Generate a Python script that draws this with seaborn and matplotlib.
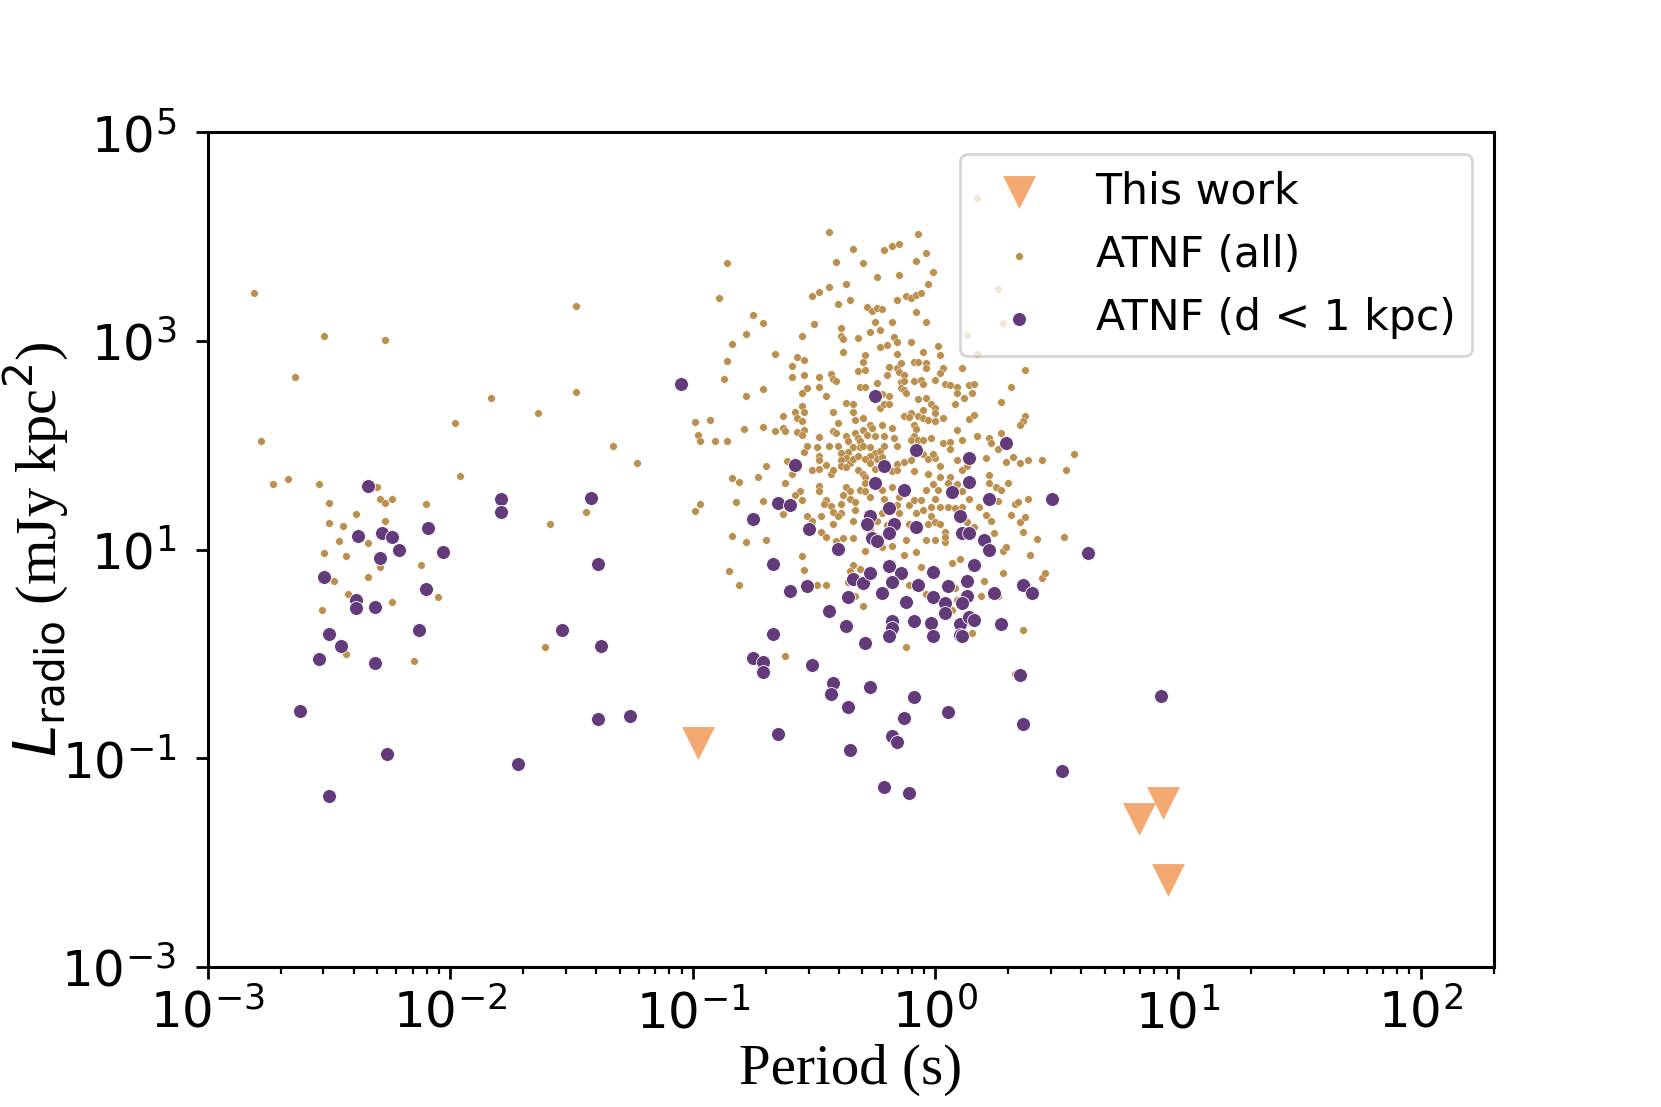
import numpy as np
import pandas as pd
import matplotlib
matplotlib.use("Agg")
import matplotlib.pyplot as plt
from matplotlib.ticker import NullLocator, FixedLocator
import seaborn as sns

# ---------------- data (log10 values) ----------------
# ATNF (all): log10 Period [s]
atnf_all_logP = [
    -2.81,-2.52,-2.27,-2.64,-1.83,-1.98,-2.78,-1.96,-2.73,-2.67,-2.54,-2.30,-2.29,-2.24,-2.27,-2.50,-2.10,-2.39,-2.50,-2.44,
    -2.27,-2.46,-2.34,-2.52,-2.43,-2.29,-2.12,-2.48,-2.34,-2.42,-2.53,-2.24,-2.05,-2.43,-2.15,
    -0.86,-0.89,-1.48,-0.75,-0.78,-0.84,-0.86,-0.87,-1.48,-1.64,-0.78,-0.99,-0.93,-0.79,-0.98,-0.97,-0.91,-0.86,-1.33,-1.23,
    -0.84,-0.81,-0.73,-0.82,-0.97,-0.99,-1.44,-1.59,-0.84,-0.78,-0.85,-0.81,-1.61,
    -0.44,-0.07,-0.34,-0.21,-0.18,-0.15,-0.04,-0.41,-0.30,-0.08,-0.24,-0.15,-0.03,-0.37,-0.51,-0.48,-0.44,-0.40,-0.35,-0.28,
    -0.26,-0.24,-0.22,-0.16,-0.12,-0.10,-0.08,-0.06,-0.08,-0.71,-0.50,-0.55,-0.39,-0.39,-0.38,-0.32,-0.27,-0.23,-0.25,-0.18,
    -0.04,-0.17,-0.16,-0.10,-0.66,-0.38,-0.23,-0.20,-0.16,-0.29,-0.30,-0.05,-0.57,-0.54,-0.59,-0.19,-0.16,-0.14,-0.09,-0.07,
    -0.04,-0.04,-0.54,-0.59,-0.48,-0.43,-0.42,-0.41,-0.32,-0.29,-0.24,-0.20,-0.15,-0.13,-0.14,-0.13,-0.09,-0.06,-0.05,-0.71,
    -0.53,-0.55,-0.48,-0.45,-0.31,-0.29,-0.22,-0.19,-0.14,-0.13,-0.12,-0.07,-0.04,-0.37,-0.34,-0.34,-0.42,-0.23,-0.21,-0.19,
    -0.55,-0.54,-0.58,-0.57,-0.55,-0.63,-0.71,-0.63,-0.62,-0.66,-0.57,-0.54,-0.55,-0.40,-0.42,-0.41,-0.30,-0.33,-0.30,-0.27,
    -0.26,-0.22,-0.18,-0.17,-0.13,-0.10,-0.11,-0.09,-0.08,-0.07,-0.05,-0.03,-0.05,-0.48,-0.37,-0.36,-0.33,-0.32,-0.31,-0.28,
    -0.25,-0.21,-0.49,-0.44,-0.40,-0.34,-0.36,-0.31,-0.30,-0.27,-0.25,-0.23,-0.16,-0.09,-0.10,-0.07,-0.05,-0.54,-0.53,-0.48,
    -0.48,-0.45,-0.39,-0.37,-0.39,-0.35,-0.34,-0.32,-0.27,-0.29,-0.24,-0.22,-0.21,-0.16,-0.13,-0.09,-0.10,-0.05,-0.03,-0.70,
    -0.61,-0.51,-0.48,-0.43,-0.42,-0.39,-0.37,-0.32,-0.30,-0.29,-0.27,-0.25,-0.18,-0.16,-0.09,-0.03,-0.59,
    -0.62,-0.56,-0.58,-0.55,-0.48,-0.48,-0.45,-0.46,-0.43,-0.42,-0.39,-0.38,-0.37,-0.35,-0.35,-0.39,-0.33,-0.31,-0.29,-0.27,
    -0.29,-0.22,-0.21,-0.18,-0.15,-0.11,-0.09,-0.06,-0.04,-0.71,-0.63,-0.53,-0.51,-0.47,-0.42,-0.40,-0.34,-0.33,-0.28,-0.24,
    -0.20,-0.22,-0.16,-0.15,-0.11,-0.08,-0.05,-0.03,-0.47,-0.45,-0.41,-0.38,-0.34,-0.29,-0.27,-0.23,-0.22,-0.18,-0.12,-0.08,
    -0.04,-0.13,-0.20,-0.18,-0.55,-0.54,-0.49,-0.45,-0.34,-0.35,-0.31,-0.36,-0.33,-0.30,-0.11,-0.06,-0.07,-0.04,-0.12,-0.62,
    -0.70,
    0.17,0.26,0.28,0.13,0.17,
    -0.01,0.01,0.02,0.11,0.03,0.02,-0.00,0.04,0.06,0.09,0.14,0.16,0.15,0.09,0.12,0.08,-0.02,0.00,0.00,0.03,
    0.00,0.37,0.31,0.27,0.14,0.16,0.37,0.36,0.35,0.09,-0.02,0.03,0.06,0.11,0.17,0.22,0.23,0.26,0.27,0.21,
    0.29,0.32,0.35,0.38,0.44,0.57,0.54,-0.00,0.09,0.02,0.02,0.06,0.11,0.13,0.22,0.06,-0.01,
    -0.01,0.01,0.05,0.09,0.11,0.14,0.11,0.18,0.22,0.25,0.27,0.26,0.30,0.33,0.34,0.38,0.31,0.35,0.37,0.21,
    0.23,0.24,0.36,0.42,0.53,0.39,0.28,0.29,0.28,0.44,0.45,0.20,0.19,0.26,0.08,0.07,0.10,-0.00,0.04,0.04,
    -0.02,0.00,0.02,0.00,-0.02,0.02,0.05,0.08,0.13,0.16,0.04,0.09,0.07,0.15,0.36,0.33,
]
# ATNF (all): log10 L_radio [mJy kpc^2]
atnf_all_logL = [
    3.46,3.05,3.01,2.66,2.45,2.21,2.04,1.71,1.63,1.68,1.63,1.60,1.49,1.49,1.45,1.45,1.44,1.34,1.26,1.23,
    1.28,1.08,1.06,0.97,0.94,0.83,0.85,0.70,0.74,0.58,0.42,0.50,0.55,0.00,-0.07,
    3.75,3.41,3.34,3.25,3.07,2.97,2.81,2.64,2.51,2.31,2.47,2.22,2.24,2.16,2.10,2.04,2.04,2.04,1.99,1.83,
    1.69,1.65,1.70,1.46,1.44,1.37,1.36,1.25,1.13,1.07,0.80,0.66,0.07,
    4.05,4.03,3.88,3.87,3.91,3.93,3.84,3.76,3.75,3.77,3.61,3.63,3.55,3.55,3.43,3.47,3.52,3.36,3.39,3.33,
    3.29,3.32,3.31,3.39,3.43,3.41,3.44,3.46,3.28,3.17,3.16,3.05,3.13,3.05,3.02,3.03,3.09,3.11,3.18,3.18,
    3.18,3.04,2.99,2.99,2.88,2.90,2.94,2.96,2.88,2.87,2.80,2.90,2.85,2.82,2.76,2.75,2.74,2.79,2.80,2.80,
    2.79,2.74,2.67,2.66,2.66,2.68,2.64,2.62,2.71,2.72,2.60,2.67,2.70,2.67,2.61,2.62,2.62,2.63,2.59,2.54,
    2.55,2.50,2.56,2.47,2.56,2.56,2.49,2.47,2.55,2.53,2.50,2.44,2.45,2.41,2.40,2.32,2.32,2.36,2.40,2.40,
    2.38,2.32,2.32,2.26,2.23,2.28,2.18,2.17,2.14,2.14,2.13,2.15,2.10,2.21,2.14,2.12,2.26,2.24,2.15,2.20,
    2.17,2.20,2.17,2.07,2.28,2.31,2.27,2.20,2.16,2.28,2.26,2.24,2.34,2.08,2.09,2.04,2.12,2.07,2.04,2.10,
    2.09,2.09,1.98,1.99,1.99,1.98,1.94,1.98,1.99,1.98,1.93,1.95,1.99,2.09,2.05,2.05,2.05,1.94,1.99,1.90,
    1.86,1.81,1.93,1.88,1.86,1.83,1.87,1.90,1.90,1.87,1.87,1.89,1.99,1.82,1.84,1.92,1.86,1.92,1.87,1.80,
    1.85,1.76,1.77,1.73,1.76,1.80,1.79,1.76,1.73,1.70,1.83,1.77,1.75,1.76,1.75,1.73,1.73,
    1.64,1.56,1.52,1.48,1.61,1.56,1.48,1.44,1.42,1.36,1.44,1.52,1.60,1.56,1.49,1.35,1.46,1.57,1.56,1.51,
    1.64,1.57,1.49,1.60,1.51,1.43,1.48,1.48,1.57,1.47,1.34,1.32,1.28,1.32,1.25,1.32,1.28,1.38,1.35,1.28,
    1.24,1.35,1.43,1.35,1.25,1.35,1.38,1.25,1.17,1.12,1.08,1.11,1.11,0.99,1.19,1.11,1.03,1.04,1.09,0.98,
    1.09,0.95,0.86,0.87,0.94,0.81,0.66,0.66,0.85,0.80,0.82,0.69,0.56,0.46,0.66,0.83,0.63,0.58,0.07,-0.02,
    1.09,
    4.37,3.50,3.17,3.06,2.88,
    3.66,2.95,2.87,2.74,2.74,2.69,2.63,2.59,2.58,2.56,2.58,2.59,2.50,2.50,2.45,2.40,2.40,2.36,2.31,2.26,
    2.23,2.72,2.56,2.42,2.25,2.29,2.28,2.23,2.20,2.15,2.07,2.02,2.03,2.05,2.09,2.07,2.02,1.97,2.12,1.88,
    1.84,1.89,1.83,1.86,1.86,1.92,1.76,1.88,1.86,1.80,1.70,1.70,1.76,1.80,1.72,1.97,1.92,
    1.63,1.57,1.64,1.63,1.56,1.49,1.41,1.41,1.64,1.60,1.57,1.47,1.64,1.44,1.46,1.49,1.33,1.27,1.31,1.33,
    1.28,1.16,1.17,1.10,1.12,0.95,0.99,1.03,0.78,0.73,0.78,0.70,0.56,0.56,0.63,0.87,0.91,1.09,1.07,1.17,
    1.32,1.27,1.25,1.49,1.41,1.41,1.41,1.40,1.27,1.22,1.12,0.52,0.42,0.20,0.23,-0.19,
]

# ATNF (d < 1 kpc)
near_logP = [
    -2.34,-1.79,-1.79,-2.38,-2.28,-2.24,-2.09,-2.21,-2.03,-2.29,-2.52,-2.10,-2.39,-2.39,-2.31,-2.50,-2.45,-2.54,-2.31,-2.13,
    -2.62,-2.26,-2.50,-1.72,
    -1.05,-1.42,-1.39,-0.75,-1.54,-1.38,-1.39,-1.26,-0.75,
    -0.25,-0.08,-0.58,-0.21,
    -0.65,-0.60,-0.52,-0.40,-0.67,-0.60,-0.53,-0.44,-0.37,-0.36,-0.34,-0.30,-0.27,-0.19,-0.14,-0.18,-0.22,-0.07,-0.27,-0.28,
    -0.19,-0.17,-0.19,-0.08,-0.13,-0.25,-0.26,-0.24,-0.12,-0.18,-0.18,-0.19,-0.09,-0.29,-0.67,-0.71,-0.71,-0.51,-0.42,-0.43,
    -0.36,-0.27,-0.09,-0.13,-0.65,-0.35,-0.18,-0.16,-0.21,-0.11,
    0.29,0.14,
    0.14,0.07,0.22,0.48,0.10,0.11,0.14,0.20,0.22,0.63,0.16,-0.01,0.13,0.05,-0.01,0.13,0.24,0.36,0.40,0.04,
    0.11,0.04,-0.02,0.10,0.14,0.16,0.27,0.10,-0.01,0.11,0.35,0.05,0.36,0.52,
    0.93,
]
near_logL = [
    1.61,1.49,1.36,1.13,1.16,1.12,1.21,1.00,0.98,0.92,0.74,0.62,0.52,0.44,0.45,0.19,0.08,-0.05,-0.09,0.23,
    -0.55,-0.96,-1.36,-1.05,
    2.59,1.50,0.86,1.29,0.23,0.08,-0.62,-0.59,-0.04,
    2.47,1.96,1.81,1.80,
    1.45,1.43,1.20,1.01,0.86,0.60,0.65,0.41,0.27,0.55,0.72,0.68,0.78,0.84,0.78,0.69,0.59,0.66,1.32,1.25,
    1.40,1.25,1.16,1.22,1.57,1.64,1.11,1.08,0.50,0.32,0.25,0.17,0.32,0.11,0.19,-0.08,-0.17,-0.10,-0.28,-0.38,
    -0.51,-0.32,-0.41,-0.61,-0.77,-0.92,-0.79,-0.84,-1.27,-1.33,
    2.02,1.88,
    1.65,1.55,1.49,1.49,1.32,1.16,1.16,1.09,1.00,0.97,0.85,0.79,0.70,0.65,0.55,0.56,0.59,0.66,0.59,0.49,
    0.49,0.39,0.30,0.29,0.36,0.33,0.29,0.18,0.17,0.17,-0.20,-0.56,-0.67,-1.12,
    -0.40,
]

# This work (upper limits)
this_logP = [-0.98, 0.84, 0.94, 0.96]
this_logL = [-0.85, -1.58, -1.43, -2.17]

series_labels = ["This work", "ATNF (all)", "ATNF (d < 1 kpc)"]

df_all = pd.DataFrame({"P": np.power(10.0, atnf_all_logP), "L": np.power(10.0, atnf_all_logL)})
df_near = pd.DataFrame({"P": np.power(10.0, near_logP), "L": np.power(10.0, near_logL)})
df_this = pd.DataFrame({"P": np.power(10.0, this_logP), "L": np.power(10.0, this_logL)})

# ---------------- plotting ----------------
sns.set_style("ticks")
plt.rcParams["font.family"] = ["DejaVu Sans"]
plt.rcParams["mathtext.fontset"] = "dejavusans"
plt.rcParams["text.color"] = "black"
plt.rcParams["axes.labelcolor"] = "black"
plt.rcParams["xtick.color"] = "black"
plt.rcParams["ytick.color"] = "black"
plt.rcParams["axes.edgecolor"] = "black"

fig = plt.figure(figsize=(8.305, 5.535), dpi=200)
ax = fig.add_axes([0.125, 0.1264, 0.7742, 0.7540])

c_all = "#BB8F4E"
c_near = "#633B7A"
c_this = "#F3A771"

sns.scatterplot(data=df_all, x="P", y="L", ax=ax, color=c_all, s=7.5, linewidth=0.15,
                edgecolor="white", label=series_labels[1], zorder=2)
sns.scatterplot(data=df_near, x="P", y="L", ax=ax, color=c_near, s=25, linewidth=0.3,
                edgecolor="white", label=series_labels[2], zorder=3)
sns.scatterplot(data=df_this, x="P", y="L", ax=ax, color=c_this, marker="v", s=140,
                linewidth=0, label=series_labels[0], zorder=4)

ax.set_xscale("log")
ax.set_yscale("log")
ax.set_xlim(1e-3, 2e2)
ax.set_ylim(1e-3, 1e5)
ax.yaxis.set_major_locator(FixedLocator([1e-3, 1e-1, 1e1, 1e3, 1e5]))
ax.yaxis.set_minor_locator(NullLocator())

for s in ax.spines.values():
    s.set_linewidth(1.1)
    s.set_edgecolor("black")
    s.set_visible(True)
ax.tick_params(axis="both", which="major", labelsize=18, length=4.3, width=1.0,
               direction="out", colors="black")
ax.tick_params(axis="y", which="major", pad=7)
ax.tick_params(axis="x", which="minor", length=2.5, width=0.8, direction="out", colors="black")

ax.set_xlabel("Period (s)", fontsize=20.5, family="Liberation Serif", labelpad=2, color="black")
ax.set_ylabel(r"$L_{\rm radio}$ (mJy kpc$^2$)", fontsize=21, family="Liberation Serif", color="black")
ax.yaxis.set_label_coords(-0.107, 0.5)

handles, labels = ax.get_legend_handles_labels()
order = [labels.index(l) for l in series_labels]
leg = ax.legend([handles[i] for i in order], [labels[i] for i in order], loc="upper right",
                fontsize=15.3, frameon=True, fancybox=True, framealpha=0.8, edgecolor="0.8")
leg.get_frame().set_linewidth(1.0)
for t in leg.get_texts():
    t.set_color("black")

fig.savefig("out.png", dpi=200, facecolor="white")
